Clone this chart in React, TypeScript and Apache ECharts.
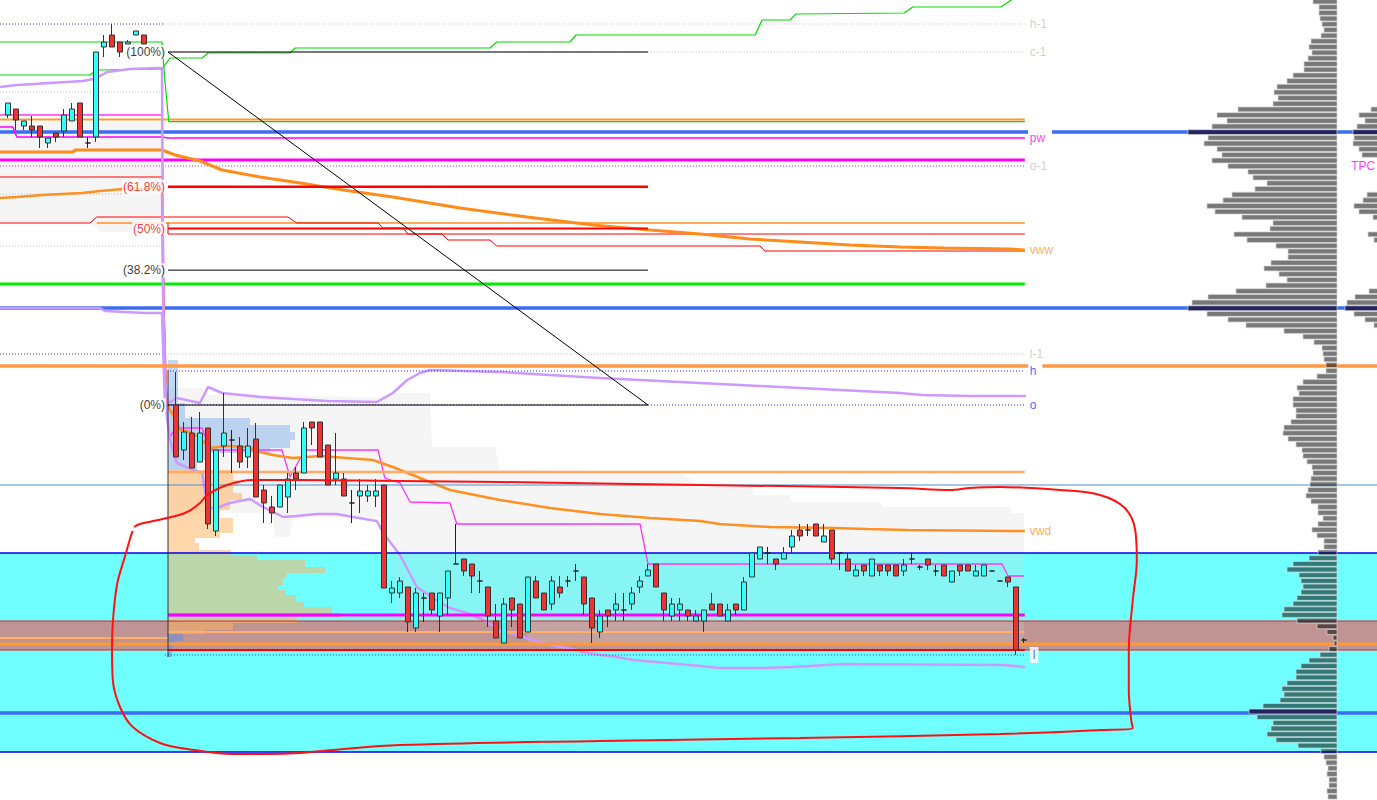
import { useEffect, useRef } from 'react';
import * as echarts from 'echarts';

// Prices are in points (one point per screen row), time is in bars (8 px per bar).
const PRICE_MIN = 1200;
const PRICE_MAX = 2000;
const LAST_BAR = 1377 / 8;
const LEVEL_END = 128.1;
const SESSION_START = 21;

// candles: [open, close, low, high]
const prevFirstBar = 1;
const prevCandles = [
  [1885, 1897, 1882, 1897], [1891, 1880, 1870, 1891], [1874, 1879, 1870, 1879], [1874, 1870, 1863, 1884],
  [1874, 1863, 1852, 1874], [1857, 1862, 1852, 1862], [1867, 1863, 1858, 1867], [1869, 1885, 1863, 1891],
  [1879, 1891, 1879, 1897], [1897, 1863, 1863, 1897], [1857, 1857, 1852, 1863], [1863, 1948, 1858, 1948],
  [1953, 1958, 1943, 1965], [1965, 1953, 1953, 1976], [1958, 1948, 1943, 1958], [1956, 1958, 1956, 1960],
  [1965, 1969, 1965, 1969], [1965, 1956, 1956, 1965],
];

const sessionFirstBar = 22;
const sessionCandles = [
  [1595, 1543, 1543, 1628], [1550, 1568, 1540, 1578], [1567, 1532, 1532, 1583], [1538, 1567, 1538, 1588],
  [1572, 1476, 1471, 1572], [1469, 1550, 1464, 1550], [1554, 1567, 1543, 1607], [1560, 1560, 1527, 1570],
  [1554, 1538, 1532, 1563], [1543, 1554, 1532, 1572], [1561, 1503, 1503, 1577], [1510, 1497, 1477, 1515],
  [1493, 1487, 1477, 1504], [1493, 1515, 1493, 1515], [1503, 1521, 1487, 1527], [1527, 1521, 1510, 1533],
  [1527, 1572, 1527, 1578], [1578, 1572, 1555, 1578], [1578, 1543, 1543, 1578], [1555, 1515, 1515, 1555],
  [1521, 1527, 1515, 1567], [1521, 1504, 1504, 1527], [1497, 1497, 1477, 1510], [1504, 1509, 1487, 1521],
  [1504, 1509, 1498, 1515], [1504, 1509, 1493, 1521], [1515, 1412, 1412, 1515], [1407, 1412, 1397, 1419],
  [1407, 1419, 1402, 1423], [1413, 1378, 1368, 1413], [1372, 1407, 1368, 1412], [1402, 1402, 1378, 1407],
  [1407, 1390, 1385, 1407], [1384, 1407, 1368, 1407], [1402, 1429, 1385, 1429], [1436, 1436, 1436, 1476],
  [1441, 1429, 1424, 1441], [1436, 1424, 1407, 1436], [1419, 1419, 1407, 1429], [1413, 1384, 1373, 1413],
  [1379, 1362, 1362, 1396], [1357, 1396, 1357, 1402], [1402, 1390, 1373, 1402], [1396, 1362, 1362, 1396],
  [1368, 1423, 1368, 1423], [1419, 1402, 1402, 1424], [1407, 1390, 1390, 1407], [1396, 1419, 1390, 1424],
  [1413, 1407, 1402, 1424], [1419, 1419, 1413, 1424], [1429, 1429, 1419, 1436], [1423, 1396, 1385, 1423],
  [1402, 1372, 1357, 1402], [1368, 1384, 1362, 1390], [1390, 1384, 1373, 1390], [1390, 1396, 1379, 1407],
  [1390, 1390, 1379, 1407], [1396, 1407, 1390, 1413], [1413, 1419, 1407, 1424], [1424, 1430, 1424, 1436],
  [1436, 1413, 1413, 1436], [1407, 1390, 1379, 1407], [1384, 1396, 1379, 1402], [1390, 1396, 1379, 1402],
  [1390, 1384, 1379, 1390], [1379, 1384, 1379, 1390], [1379, 1390, 1368, 1390], [1396, 1390, 1390, 1407],
  [1396, 1384, 1384, 1396], [1379, 1390, 1379, 1396], [1396, 1390, 1385, 1396], [1390, 1418, 1390, 1423],
  [1423, 1447, 1423, 1447], [1441, 1453, 1441, 1453], [1447, 1447, 1436, 1453], [1441, 1436, 1430, 1441],
  [1441, 1447, 1441, 1453], [1453, 1464, 1447, 1470], [1470, 1464, 1459, 1476], [1470, 1470, 1464, 1476],
  [1476, 1464, 1464, 1476], [1458, 1464, 1458, 1476], [1470, 1441, 1436, 1470], [1447, 1447, 1430, 1447],
  [1441, 1429, 1429, 1447], [1424, 1430, 1424, 1435], [1435, 1429, 1424, 1435], [1424, 1441, 1424, 1441],
  [1435, 1429, 1424, 1435], [1435, 1429, 1424, 1435], [1435, 1424, 1424, 1435], [1429, 1435, 1424, 1441],
  [1441, 1441, 1436, 1447], [1433, 1433, 1430, 1435], [1441, 1435, 1430, 1441], [1429, 1429, 1424, 1435],
  [1435, 1424, 1424, 1435], [1418, 1429, 1418, 1429], [1435, 1429, 1424, 1435], [1435, 1429, 1429, 1435],
  [1424, 1429, 1424, 1435], [1424, 1435, 1424, 1435], [1429, 1429, 1429, 1429], [1419, 1419, 1419, 1419],
  [1423, 1418, 1413, 1423], [1413, 1350, 1345, 1413], [1360, 1360, 1357, 1362],
];

// fibonacci retracement
const fibHigh = 1948;
const fibLow = 1595;
const fibFrom = 21;
const fibTo = 81;
const fibRatios = [1, 0.618, 0.5, 0.382, 0];
const fibLabels = ['(100%)', '(61.8%)', '(50%)', '(38.2%)', '(0%)'];

// pivot labels at the right end
const levelNames = ['h-1', 'c-1', 'pw', 'o-1', 'vww', 'l-1', 'h', 'o', 'vwd', 'l'];
const levelPrices = [1976, 1948, 1862, 1834, 1750, 1646, 1629, 1595, 1469, 1345];

// indicator lines [bar, price]
const greenUpper = [[0, 1958], [20.25, 1958], [20.6, 1920], [21.1, 1878.3], [LEVEL_END, 1878.3]];
const greenLower = [
  [0, 1925], [11.25, 1925], [12.1, 1930], [20.25, 1931], [21.25, 1942], [25.25, 1942], [26, 1947], [36.25, 1947],
  [36.9, 1952], [61.25, 1952], [62.1, 1958], [71.25, 1958], [72, 1965], [94.4, 1965], [95.25, 1980], [98.75, 1980],
  [99.5, 1986], [113, 1987], [114.1, 1993], [125.1, 1993], [126.6, 2001],
];
const magentaBand = [
  [0, 1885], [20.25, 1885], [20.5, 1700], [20.9, 1580], [21.25, 1563], [21.9, 1572], [25.25, 1572], [26.25, 1550],
  [35.25, 1550], [36.25, 1523], [38.1, 1550], [47.25, 1550], [48.1, 1522], [50, 1517], [51.25, 1498], [56.25, 1497],
  [57.1, 1476], [80, 1476], [81, 1436], [125.25, 1436], [126, 1424], [128, 1424],
];
const pwLine = [[0, 1873], [1.6, 1873], [2.1, 1863], [20.25, 1863], [21, 1862], [LEVEL_END, 1862]];
const vwwLine = [
  [0, 1848], [9.1, 1848], [9.4, 1850], [20.25, 1850], [21.9, 1845], [25, 1839], [27.75, 1830], [32.5, 1823],
  [37.5, 1817], [42.9, 1810], [49.1, 1803], [57.5, 1792], [65.9, 1783], [74.1, 1775], [81.25, 1770], [87.5, 1766],
  [93.75, 1761], [100, 1758], [106.25, 1755], [112.5, 1753], [118.1, 1752], [126.25, 1751], [LEVEL_END, 1750],
];
const vwdLine = [
  [0, 1802], [2.1, 1803], [5.25, 1805], [10.25, 1807], [12.5, 1809], [15.4, 1811], [20.25, 1811], [20.4, 1700],
  [20.75, 1600], [21.25, 1590], [21.9, 1582], [22.5, 1570], [23.75, 1568], [25, 1562], [26.25, 1552], [28.4, 1554],
  [30.9, 1553], [32.5, 1548], [34.1, 1545], [36.6, 1542], [40, 1544], [43.4, 1542], [46.6, 1540], [49.1, 1533],
  [52.5, 1522], [56.25, 1510], [62.5, 1500], [68.75, 1492], [75, 1486], [81.25, 1482], [87.5, 1479], [90, 1476],
  [96.25, 1473], [104.1, 1472], [108.4, 1471], [113.4, 1470], [126.25, 1469], [LEVEL_END, 1469],
];
const redSteps = [
  [0, 1777], [11.25, 1777], [12.1, 1783], [20.9, 1783], [36, 1783], [37.1, 1777], [47.25, 1777], [47.9, 1772],
  [50.4, 1772], [51, 1766], [55.25, 1766], [56, 1760], [61.25, 1760], [62.1, 1754], [95, 1754], [95.6, 1749],
  [LEVEL_END, 1749],
];
const redThin = [[21, 1777], [21, 1766], [LEVEL_END, 1766]];
const lavenderUpper = [
  [0, 1913], [2.1, 1915], [6.25, 1917], [10.4, 1919], [11.6, 1921], [12.5, 1924], [13.4, 1928], [16.25, 1931],
  [20.25, 1932], [20.4, 1700], [20.6, 1620], [21, 1597], [22.1, 1602], [25, 1597], [26, 1613], [27.75, 1607],
  [32.5, 1603], [34.6, 1602], [36.6, 1601], [40.9, 1599], [47.1, 1598], [49.1, 1607], [50.9, 1620], [52.5, 1627],
  [53.75, 1630], [62.5, 1628], [75, 1622], [87.5, 1617], [100, 1612], [112.5, 1607], [115.25, 1605], [121.25, 1604],
  [128.25, 1604],
];
const lavenderLower = [
  [0, 1692], [12.5, 1692], [13.1, 1689], [18.1, 1687], [20.25, 1687], [20.6, 1600], [21.25, 1560], [22.1, 1537],
  [24.1, 1530], [25.25, 1527], [26, 1492], [27.1, 1492], [28.75, 1497], [31.25, 1501], [32.9, 1493], [35.4, 1483],
  [37.1, 1484], [39.6, 1486], [42.1, 1486], [44.1, 1483], [47.1, 1479], [47.9, 1467], [50, 1445], [52.1, 1413],
  [54.1, 1402], [56.25, 1392], [58.4, 1387], [60.4, 1380], [62.5, 1370], [64.6, 1365], [66.6, 1360], [68.75, 1355],
  [70.9, 1352], [72.9, 1348], [75, 1345], [77.1, 1343], [79.1, 1340], [83.4, 1337], [87.5, 1334], [90, 1332],
  [95, 1332], [99.1, 1333], [105.4, 1336], [125.4, 1335], [128.1, 1333],
];
// hand-drawn loop
const freehandLoop = [
  [16.75, 1473], [17.5, 1476], [20.9, 1482], [23.4, 1488], [25, 1497], [25.9, 1505], [28.4, 1515], [31.6, 1520],
  [37.5, 1520], [50, 1519], [62.5, 1518], [87.5, 1515], [112.5, 1512], [118.75, 1510], [121.25, 1512], [125, 1513],
  [132.5, 1510], [137.5, 1505], [140.6, 1492], [141.9, 1470], [142.1, 1440], [141.6, 1400], [141.1, 1350],
  [141.1, 1310], [141.4, 1280], [141.6, 1272], [137.5, 1270], [125, 1266], [100, 1262], [75, 1259], [50, 1255],
  [41.6, 1250], [37.5, 1247], [33.4, 1246], [29.1, 1246], [23.4, 1251], [20, 1257], [16.6, 1273], [15, 1293],
  [14.1, 1320], [14, 1353], [14.1, 1377], [14.4, 1403], [14.75, 1420], [15.6, 1443], [16.4, 1465], [16.6, 1469],
];

// shaded areas
const prevValueArea = [[0, 1878], [20.25, 1878], [20.25, 1768], [12.5, 1768], [11.25, 1778], [0, 1778]];
const sessionValueArea = [
  [21.25, 1612], [25.4, 1612], [25.6, 1605], [34.4, 1605], [48.4, 1602], [48.75, 1607], [53.75, 1607], [54, 1553],
  [61.9, 1553], [62.5, 1530], [85, 1528], [87.5, 1513], [94, 1513], [94.4, 1505], [98.75, 1505], [99, 1498],
  [110, 1498], [110.25, 1493], [126.25, 1493], [126.5, 1487], [128, 1487], [128, 1355], [65.9, 1355], [65.9, 1379],
  [49.75, 1379], [48.75, 1447], [48.4, 1483], [36.6, 1483], [36.25, 1463], [34.4, 1463], [34.1, 1487],
  [21.25, 1487],
];
const cyanZone = [1248, 1447];
const brownZone = [1350, 1379];

// session volume profile at the session start: [bottom, top, volume]
const upperBlueRows = [
  [1597, 1640, 10], [1582, 1597, 17], [1575, 1582, 82], [1568, 1575, 122], [1560, 1568, 127], [1552, 1560, 122],
  [1547, 1552, 102], [1540, 1547, 37], [1530, 1540, 29],
];
const peachRows = [
  [1520, 1530, 65], [1514, 1520, 70], [1507, 1514, 65], [1500, 1507, 74], [1490, 1500, 62], [1482, 1490, 52],
  [1473, 1482, 65], [1467, 1473, 65], [1462, 1467, 52], [1457, 1462, 27], [1450, 1457, 31], [1445, 1450, 63],
  [1440, 1445, 89], [1433, 1440, 137], [1427, 1433, 157], [1422, 1427, 119], [1415, 1422, 115], [1410, 1415, 110],
  [1405, 1410, 117], [1398, 1405, 128], [1393, 1398, 136], [1387, 1393, 164], [1377, 1383, 129], [1370, 1377, 65],
  [1366, 1370, 37],
];
const pocRow = [[1383, 1387, 173]];
const lowerBlueRows = [[1359, 1366, 15], [1353, 1359, 7], [1343, 1353, 4]];

// composite volume profile on the right
const profileTop = 1998.5;
const profileStep = 5.68;
const profileVolumes = [
  24, 18, 18, 17, 15, 13, 16, 26, 28, 25,
  29, 33, 33, 44, 50, 60, 63, 59, 64, 99,
  120, 110, 125, 149, 129, 133, 120, 115, 125, 109,
  89, 84, 70, 82, 105, 114, 130, 122, 95, 64,
  67, 103, 90, 61, 49, 49, 66, 73, 58, 50,
  71, 101, 129, 145, 149, 130, 109, 91, 53, 34,
  23, 15, 14, 13, 11, 11, 20, 34, 40, 38,
  44, 44, 41, 41, 46, 53, 54, 49, 41, 35,
  34, 30, 25, 24, 26, 27, 29, 31, 26, 19,
  19, 14, 19, 25, 20, 13, 13, 19, 28, 44,
  50, 38, 36, 34, 36, 40, 44, 53, 55, 40,
  20, 10, 4, 3, 8, 17, 28, 36, 41, 41,
  50, 55, 53, 57, 74, 88, 80, 64, 66, 70,
  61, 39, 16, 13, 11, 9, 10, 8, 8, 10,
  9,
];
const pocBins = [23, 54, 125];
// time-at-price profile, cut by the right edge of the window
const tpoBins = [19, 20, 21, 22, 23, 24, 25, 26, 27, 34, 35, 36, 37, 38, 41, 42, 51, 52, 53, 54, 55, 56, 57];
const tpoCounts = [69, 81, 75, 83, 87, 86, 87, 81, 78, 73, 77, 86, 81, 67, 72, 66, 71, 85, 93, 95, 86, 75, 66];

const FONT = 'Liberation Sans, Arial, sans-serif';
const dotted = [1, 2];

function line(data: number[][], color: string, width: number, type: any = 'solid', z = 2, smooth: any = false) {
  return {
    type: 'line',
    data,
    xAxisIndex: 0,
    yAxisIndex: 0,
    symbol: 'none',
    silent: true,
    smooth,
    z,
    lineStyle: { color, width, type },
  };
}

function level(price: number, from: number, to: number, color: string, width: number, type: any = 'solid') {
  return line([[from, price], [to, price]], color, width, type);
}

function polygon(points: number[][], fill: string, z: number) {
  return {
    type: 'custom',
    xAxisIndex: 0,
    yAxisIndex: 0,
    silent: true,
    z,
    data: [points[0]],
    renderItem: (_params: any, api: any) => ({
      type: 'polygon',
      shape: { points: points.map((p) => api.coord(p)) },
      style: { fill },
    }),
  };
}

function zone(range: number[], fill: string) {
  return {
    type: 'custom',
    xAxisIndex: 0,
    yAxisIndex: 0,
    silent: true,
    z: 0,
    data: [range],
    renderItem: (params: any, api: any) => {
      const top = api.coord([0, api.value(1)]);
      const bottom = api.coord([0, api.value(0)]);
      return {
        type: 'rect',
        shape: { x: params.coordSys.x, y: top[1], width: params.coordSys.width, height: bottom[1] - top[1] },
        style: { fill },
      };
    },
  };
}

// horizontal histogram rows [bottom, top, volume, isPoc]
function rows(data: number[][], axis: number, fill: string, stroke: string | null, pocFill: string, z: number) {
  return {
    type: 'custom',
    xAxisIndex: axis,
    yAxisIndex: axis,
    silent: true,
    z,
    data,
    renderItem: (_params: any, api: any) => {
      const a = api.coord([0, api.value(1)]);
      const b = api.coord([api.value(2), api.value(0)]);
      return {
        type: 'rect',
        shape: { x: Math.min(a[0], b[0]), y: a[1], width: Math.abs(b[0] - a[0]), height: b[1] - a[1] },
        style: { fill: api.value(3) ? pocFill : fill, stroke: stroke || 'none', lineWidth: stroke ? 0.7 : 0 },
      };
    },
  };
}

const labelColors: Record<string, string> = {
  'h-1': '#c4c4c4', 'c-1': '#c4c4c4', pw: '#ff00ff', 'o-1': '#c4c4c4', vww: '#ff9933',
  'l-1': '#c4c4c4', h: '#3333ff', o: '#3333ff', vwd: '#ff9933', l: '#3333ff',
};

export default function App() {
  const chartRef = useRef<HTMLDivElement>(null);

  useEffect(() => {
    if (!chartRef.current) return;
    const chart = echarts.init(chartRef.current, null, { renderer: 'svg' });

    const candles = [
      ...prevCandles.map((c, i) => [prevFirstBar + i, ...c]),
      ...sessionCandles.map((c, i) => [sessionFirstBar + i, ...c]),
    ];

    const bin = (k: number) => profileTop - k * profileStep;
    const half = profileStep / 2 - 0.4;
    const profileRows = profileVolumes.map((v, k) => [bin(k) - half, bin(k) + half, v, pocBins.includes(k) ? 1 : 0]);
    const tpoRows = tpoBins.map((k, i) => [bin(k) - half, bin(k) + half, tpoCounts[i], pocBins.includes(k) ? 1 : 0]);

    const fibPrices = fibRatios.map((r) => fibLow + (fibHigh - fibLow) * r);
    const fibColors = ['#000000', '#ff0000', '#ff0000', '#000000', '#000000'];
    const fibWidths = [1, 2.5, 2, 1, 1];

    const labelData = [
      ...levelNames.map((n, i) => ({
        name: n,
        value: [LEVEL_END, levelPrices[i]],
        label: {
          color: labelColors[n],
          position: 'right',
          distance: 5,
          backgroundColor: n === 'l' ? '#ffffff' : 'transparent',
          padding: n === 'l' ? [2, 3] : 0,
        },
      })),
      ...fibLabels.map((n, i) => ({
        name: n,
        value: [SESSION_START, fibPrices[i]],
        label: { color: fibColors[i], position: 'left', distance: 2, backgroundColor: '#ffffff', padding: [1, 1] },
      })),
      { name: 'TPC', value: [168.9, 1834], label: { color: '#ff00ff', position: 'right', distance: 0 } },
    ];

    const axisOff = { show: false, splitLine: { show: false } };

    const option = {
      animation: false,
      backgroundColor: '#ffffff',
      grid: [
        { left: 0, top: 0, width: 1377, height: 800 },
        { left: 1090, top: 0, width: 247, height: 800 },
        { left: 1300, top: 0, width: 77, height: 800 },
        { left: 168, top: 0, width: 300, height: 800 },
      ],
      xAxis: [
        { type: 'value', gridIndex: 0, min: 0, max: LAST_BAR, ...axisOff },
        { type: 'value', gridIndex: 1, min: 0, max: 247, inverse: true, ...axisOff },
        // the time profile is anchored 63 px beyond the right edge of the window
        { type: 'value', gridIndex: 2, min: 63, max: 140, inverse: true, ...axisOff },
        { type: 'value', gridIndex: 3, min: 0, max: 300, ...axisOff },
      ],
      yAxis: [0, 1, 2, 3].map((g) => ({ type: 'value', gridIndex: g, min: PRICE_MIN, max: PRICE_MAX, ...axisOff })),
      series: [
        zone(cyanZone, '#70ffff'),
        zone(brownZone, '#c09494'),
        polygon(prevValueArea, 'rgba(213,213,213,0.24)', 1),
        polygon(sessionValueArea, 'rgba(213,213,213,0.24)', 1),
        rows(upperBlueRows, 3, 'rgba(120,170,235,0.45)', null, '', 1),
        rows(peachRows, 3, 'rgba(255,180,95,0.53)', null, '', 1),
        rows(pocRow, 3, 'rgba(200,140,255,0.85)', null, '', 1),
        rows(lowerBlueRows, 3, 'rgba(90,140,230,0.5)', null, '', 1),

        level(1976, 0, 20.4, '#3333cc', 1, dotted),
        level(1976, 20.4, LEVEL_END, '#bbbbbb', 1, dotted),
        level(1948, 20.6, LEVEL_END, '#bbbbbb', 1, dotted),
        level(1908, 0, 20.25, '#bbbbbb', 1, dotted),
        level(1806, 0, 15.4, '#bbbbbb', 1, dotted),
        level(1754, 0, 20.25, '#bbbbbb', 1, dotted),
        level(1646, 0, 20.6, '#3333cc', 1, dotted),
        level(1646, 20.6, LEVEL_END, '#bbbbbb', 1, dotted),
        level(1868, 0, 128.5, '#3a6cf5', 3.5),
        level(1868, 131.5, LAST_BAR, '#3a6cf5', 3.5),
        level(1692, 0, LAST_BAR, '#3a6cf5', 3.5),
        level(1287, 0, LAST_BAR, '#3a6cf5', 3.5),
        level(1880.6, 0, LEVEL_END, '#ff9933', 2),
        line(greenUpper, '#00dd00', 1.2),
        line(greenLower, '#00dd00', 1.2),
        line(magentaBand, '#ff33ff', 1.3),
        line(pwLine, '#ff00ff', 1.5),
        level(1840, 0, LEVEL_END, '#ff00ff', 3),
        level(1834, 0, LEVEL_END, '#cc33cc', 1, dotted),
        level(1823, 0, 20.25, '#ff0000', 1),
        level(1777, 12.1, LEVEL_END, '#ffaa55', 2),
        line(redSteps, '#ff0000', 1),
        line(redThin, '#ff0000', 1),
        line(vwwLine, '#ff8c1a', 3),
        line(vwdLine, '#ff9022', 2.5),
        level(1716, 0, LEVEL_END, '#00ee00', 3),
        line(lavenderUpper, '#cc99ff', 2.5),
        line(lavenderLower, '#cc99ff', 2.5),
        level(1634, 0, 128.5, '#ff9944', 3.5),
        level(1634, 130.3, LAST_BAR, '#ff9944', 3.5),
        level(1629, 21.25, LEVEL_END, '#3333ff', 1, dotted),
        level(1595, 21, LEVEL_END, '#3333ff', 1, dotted),
        level(1528, 21, LEVEL_END, '#ffaa66', 2.5),
        level(1515, 0, LAST_BAR, '#4a8fd6', 1),
        level(1447, 0, LAST_BAR, '#0000ee', 1.5),
        level(1385, 21, LEVEL_END, '#ff00ff', 3),
        level(1379, 0, LAST_BAR, '#e02020', 1),
        level(1368, 21, LEVEL_END, '#ffb066', 2),
        level(1362, 0, 21, '#ffb066', 2),
        level(1356, 0, LAST_BAR, '#ff9933', 3),
        level(1350, 0, LAST_BAR, '#e02020', 1),
        level(1350, 21, LEVEL_END, '#ff0000', 2),
        level(1345, 20.6, LEVEL_END, '#3333cc', 1, dotted),
        level(1248, 0, LAST_BAR, '#0000ee', 1.5),
        line([[SESSION_START, 1630], [SESSION_START, 1343]], '#333333', 1),
        ...fibPrices.map((p, i) => level(p, fibFrom, fibTo, fibColors[i], fibWidths[i])),
        line([[fibFrom, fibHigh], [fibTo, fibLow]], '#000000', 1),

        {
          type: 'candlestick',
          xAxisIndex: 0,
          yAxisIndex: 0,
          data: candles,
          barWidth: 5,
          silent: true,
          z: 3,
          itemStyle: {
            color: '#33ffff',
            color0: '#ee3333',
            borderColor: '#333333',
            borderColor0: '#333333',
            borderColorDoji: '#222222',
            borderWidth: 1,
          },
        },

        rows(profileRows, 1, 'rgba(0,0,0,0.53)', '#d6d6d6', '#24245e', 4),
        rows(tpoRows, 2, 'rgba(0,0,0,0.53)', '#d6d6d6', '#24245e', 4),

        line(freehandLoop, '#ff1111', 2, 'solid', 5, 0.35),

        {
          type: 'scatter',
          xAxisIndex: 0,
          yAxisIndex: 0,
          symbolSize: 0,
          silent: true,
          z: 6,
          data: labelData,
          label: {
            show: true,
            formatter: (p: any) => p.name,
            fontFamily: FONT,
            fontSize: 12,
          },
        },
      ],
    };

    chart.setOption(option as any);

    return () => {
      chart.dispose();
    };
  }, []);

  return (
    <div
      ref={chartRef}
      style={{ position: 'fixed', left: 0, top: 0, width: 1377, height: 800, background: '#fff' }}
    />
  );
}
